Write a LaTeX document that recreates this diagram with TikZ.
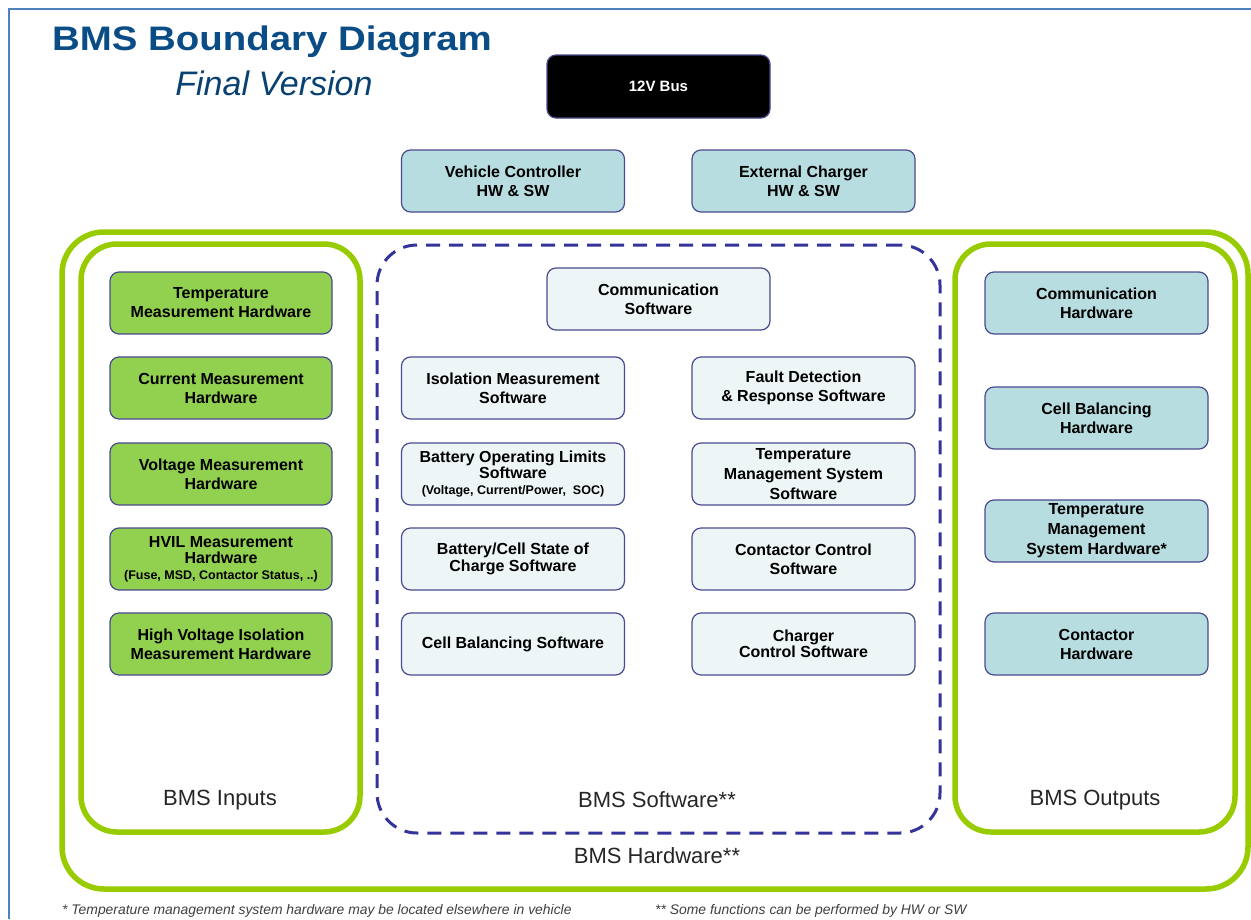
\documentclass[tikz,border=0pt]{standalone}
\usepackage{fontspec}
\setmainfont{Liberation Sans}
\usepackage{graphicx}
\definecolor{framebl}{HTML}{4F81BD}
\definecolor{titlebl}{HTML}{0A4C86}
\definecolor{hwgreen}{HTML}{99CC00}
\definecolor{ingreen}{HTML}{92D050}
\definecolor{teal}{HTML}{B7DDE0}
\definecolor{swfill}{HTML}{EEF5F7}
\definecolor{boxline}{HTML}{4B4B8F}
\definecolor{swdash}{HTML}{333399}
\begin{document}
\begin{tikzpicture}[x=1pt,y=-1pt,
  box/.style={draw=boxline, line width=1.2pt, rounded corners=9pt,
    minimum width=223pt, minimum height=62pt, align=center, inner sep=1pt,
    font=\fontsize{16}{19}\selectfont\bfseries},
  inbox/.style={box, fill=ingreen},
  tealbox/.style={box, fill=teal},
  swbox/.style={box, fill=swfill},
  container/.style={draw=hwgreen, line width=5.5pt, rounded corners=42pt, inner sep=0pt},
  swcontainer/.style={draw=swdash, line width=3pt, dash pattern=on 14pt off 9pt, rounded corners=40pt, inner sep=0pt},
  grplabel/.style={font=\fontsize{22}{26}\selectfont, text=black!85},
  foot/.style={font=\fontsize{13.9}{16}\selectfont\itshape, text=black!75, anchor=west, inner sep=0pt}
]
\useasboundingbox (0,0) rectangle (1251,919);
\fill[white] (0,0) rectangle (1251,919);
\draw[framebl, line width=2pt] (9,919) -- (9,9) -- (1251,9);

% title
\node[text=titlebl, font=\fontsize{34}{40}\selectfont\bfseries] (title) at (272,42) {\scalebox{1.13}[1]{BMS Boundary Diagram}};
\node[text=titlebl!85!black, font=\fontsize{34}{40}\selectfont\itshape] (subtitle) at (274,83) {Final Version};

% top boxes
\node[box, fill=black, text=white, minimum height=63pt, font=\fontsize{15}{18}\selectfont\bfseries] (bus) at (658.5,86.5) {12V Bus};
\node[tealbox] (vc) at (513,181) {Vehicle Controller\\HW \& SW};
\node[tealbox] (ec) at (803.5,181) {External Charger\\HW \& SW};

% containers
\node[container, minimum width=1186pt, minimum height=657pt] (hw) at (655,560.5) {};
\node[container, rounded corners=36pt, minimum width=279pt, minimum height=588pt] (inputs) at (220.5,538) {};
\node[container, rounded corners=36pt, minimum width=280pt, minimum height=588pt] (outputs) at (1095,538) {};
\node[swcontainer, minimum width=563pt, minimum height=588pt] (sw) at (658.5,539) {};

% group labels
\node[grplabel] (lin) at (220,800) {BMS Inputs};
\node[grplabel] (lsw) at (657,800) {BMS Software**};
\node[grplabel] (lout) at (1095,800) {BMS Outputs};
\node[grplabel] (lhw) at (657,856) {BMS Hardware**};

% inputs
\node[inbox, minimum width=222pt] (i1) at (221,303) {Temperature\\Measurement Hardware};
\node[inbox, minimum width=222pt] (i2) at (221,388) {Current Measurement\\Hardware};
\node[inbox, minimum width=222pt] (i3) at (221,474) {Voltage Measurement\\Hardware};
\node[inbox, minimum width=222pt, font=\fontsize{16}{16}\selectfont\bfseries] (i4) at (221,559) {HVIL Measurement\\Hardware\\{\fontsize{12.5}{14}\selectfont (Fuse, MSD, Contactor Status, ..)}};
\node[inbox, minimum width=222pt] (i5) at (221,644) {High Voltage Isolation\\Measurement Hardware};

% software
\node[swbox] (s0) at (658.5,299) {Communication\\Software};
\node[swbox] (s1) at (513,388) {Isolation Measurement\\Software};
\node[swbox, font=\fontsize{16}{16}\selectfont\bfseries] (s2) at (513,474) {Battery Operating Limits\\Software\\{\fontsize{12.5}{14}\selectfont (Voltage, Current/Power,\ \ SOC)}};
\node[swbox, font=\fontsize{16}{17}\selectfont\bfseries] (s3) at (513,559) {Battery/Cell State of\\Charge Software};
\node[swbox] (s4) at (513,644) {Cell Balancing Software};
\node[swbox] (s5) at (803.5,388) {Fault Detection\\\& Response Software};
\node[swbox, font=\fontsize{16}{20}\selectfont\bfseries] (s6) at (803.5,474) {Temperature\\Management System\\Software};
\node[swbox] (s7) at (803.5,559) {Contactor Control\\Software};
\node[swbox, font=\fontsize{16}{16}\selectfont\bfseries] (s8) at (803.5,644) {Charger\\Control Software};

% outputs
\node[tealbox] (o1) at (1096.5,303) {Communication\\Hardware};
\node[tealbox] (o2) at (1096.5,418) {Cell Balancing\\Hardware};
\node[tealbox, font=\fontsize{16}{20}\selectfont\bfseries] (o3) at (1096.5,531) {Temperature\\Management\\System Hardware*};
\node[tealbox] (o4) at (1096.5,644) {Contactor\\Hardware};

% footnotes
\node[foot] (f1) at (62,911) {* Temperature management system hardware may be located elsewhere in vehicle};
\node[foot] (f2) at (655,911) {** Some functions can be performed by HW or SW};
\end{tikzpicture}
\end{document}
